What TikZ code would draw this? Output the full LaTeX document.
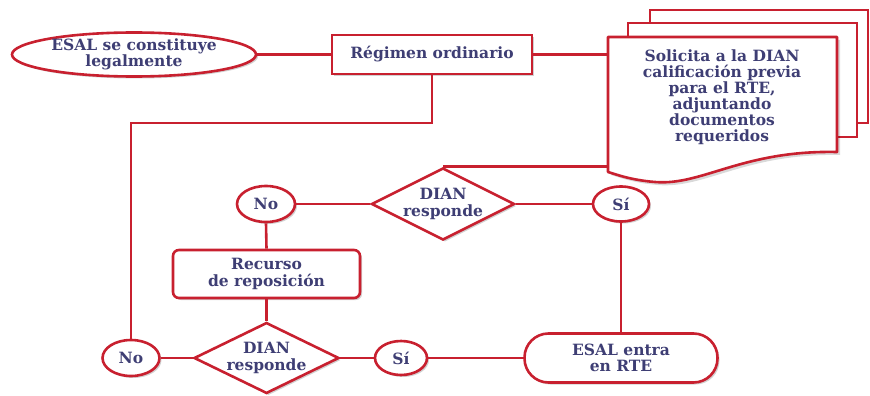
\documentclass[tikz,border=0pt]{standalone}
\usepackage{fontspec}
\setmainfont{DejaVu Serif}
\usetikzlibrary{shapes.geometric,shadows}
\definecolor{fr}{HTML}{C8202F}
\definecolor{tx}{HTML}{3E3E74}
\tikzset{
  base/.style={draw=fr, line width=2.6pt, fill=white, text=tx, font=\fontsize{15.5}{16.5}\selectfont\bfseries, align=center, inner sep=0pt,
    drop shadow={shadow xshift=2pt, shadow yshift=-2pt, opacity=0.18, fill=black}},
  oval/.style={base, ellipse, inner sep=-1.5pt},
  boxr/.style={base, rectangle},
  dia/.style={base, diamond, aspect=2},
  conn/.style={draw=fr, line width=2.6pt},
}
\begin{document}
\begin{tikzpicture}[x=1pt,y=-1pt]
\useasboundingbox (0,0) rectangle (870,396);
% document stack
\draw[fr, line width=2.6pt, fill=white] (650,10) rectangle (868,123);
\draw[fr, line width=2.6pt, fill=white] (628,23) rectangle (857,137);
\fill[black, opacity=0.15] (611,40) -- (840,40) -- (840,155) .. controls (745,153) and (705,189) .. (658,185) .. controls (633,183) and (618,177) .. (611,175) -- cycle;
\draw[fr, line width=2.6pt, fill=white, line join=round] (608,37) -- (837,37) -- (837,152) .. controls (742,150) and (702,186) .. (655,182) .. controls (630,180) and (615,174) .. (608,172) -- cycle;
\node[minimum width=229pt, minimum height=135pt, inner sep=0pt] (doc) at (722.5,104.5) {};
\node[text=tx, font=\fontsize{15.5}{16}\selectfont\bfseries, align=center] (doctext) at (722,97) {Solicita a la DIAN\\calificación previa\\para el RTE,\\adjuntando\\documentos\\requeridos};

\node[oval, minimum width=244pt, minimum height=44pt] (e1) at (134,54.5) {ESAL se constituye\\legalmente};
\node[boxr, minimum width=200pt, minimum height=39pt] (r1) at (432,54.5) {Régimen ordinario};
\node[dia, minimum width=143pt, minimum height=72pt] (d1) at (443,204) {DIAN\\responde};
\node[oval, minimum width=58pt, minimum height=36pt] (no1) at (266,204) {No};
\node[oval, minimum width=56pt, minimum height=35pt] (si1) at (621,204) {Sí};
\node[boxr, rounded corners=6pt, minimum width=187pt, minimum height=48pt] (rec) at (266.5,274) {Recurso\\de reposición};
\node[dia, minimum width=145pt, minimum height=70pt] (d2) at (266.5,358) {DIAN\\responde};
\node[oval, minimum width=57pt, minimum height=36pt] (no2) at (131,358) {No};
\node[oval, minimum width=52pt, minimum height=34pt] (si2) at (401,358) {Sí};
\node[boxr, rounded corners=24pt, minimum width=193pt, minimum height=49pt] (rte) at (621,358) {ESAL entra\\en RTE};
\coordinate (c1) at (0,123);

\path[conn] (e1.east) -- (r1.west);
\path[conn] (r1.east) -- (r1.east -| doc.west);
\path[conn] (d1.north) -- (d1.north -| doc.west);
\path[conn] (d1.west) -- (no1.east);
\path[conn] (d1.east) -- (si1.west);
\path[conn] (si1.south) -- (rte.north);
\path[conn] (no1.south) -- (rec.north);
\path[conn] (rec.south) -- (d2.north);
\path[conn] (d2.west) -- (no2.east);
\path[conn] (d2.east) -- (si2.west);
\path[conn] (si2.east) -- (rte.west);
\path[conn, line join=miter] (no2.north) -- (no2.north |- c1) -- (r1.south |- c1) -- (r1.south);
\end{tikzpicture}
\end{document}
